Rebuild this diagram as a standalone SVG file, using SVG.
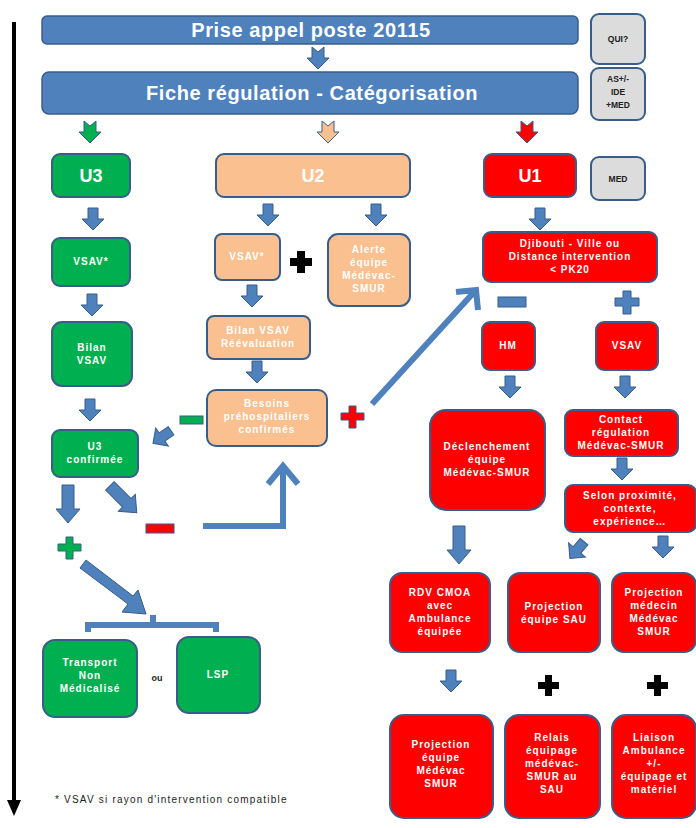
<svg xmlns="http://www.w3.org/2000/svg" xmlns:xlink="http://www.w3.org/1999/xlink" width="696" height="828" viewBox="0 0 696 828">
<style>
.bar{fill:#4f81bd;stroke:#385d8a;stroke-width:1.5}
.gr{fill:#00b050;stroke:#385d8a;stroke-width:2}
.or{fill:#fac090;stroke:#385d8a;stroke-width:2}
.rd{fill:#ff0000;stroke:#385d8a;stroke-width:2}
.gy{fill:#dcdcdc;stroke:#385d8a;stroke-width:2}
text{font-family:"Liberation Sans",Arial,sans-serif;font-weight:bold;text-anchor:middle}
.t{fill:#fff;font-size:10px;letter-spacing:1px}
.big{fill:#fff;font-size:18px}
.h{fill:#fff;font-size:20px;letter-spacing:0.6px}
.k{fill:#222;font-size:8.5px}
.ar{fill:#4f81bd;stroke:#385d8a;stroke-width:1}
.ln{fill:none;stroke:#4f81bd;stroke-width:6}
.blk{fill:#000}
</style>
<defs>
<path id="dn" d="M-5,-11 H5 V0 H11 L0,11 L-11,0 H-5 Z"/>
<path id="dnL" d="M-6,-20 H6 V4 H12 L0,18 L-12,4 H-6 Z"/>
<path id="nt" d="M-6,-11 L0,-6 L6,-11 V0 H11 L0,11 L-11,0 H-6 Z"/>
</defs>

<!-- timeline arrow -->
<g id="timeline">
<line x1="14" y1="22" x2="14" y2="802" stroke="#000" stroke-width="4"/>
<path d="M7,800 L21,800 L14,816 Z" fill="#000"/>
</g>

<g id="n_prise"><rect class="bar" x="42" y="16" width="536" height="28" rx="5"/><text class="h" x="311" y="37">Prise appel poste 20115</text></g>
<g id="n_fiche"><rect class="bar" x="42" y="72" width="536" height="42" rx="7"/><text class="h" x="312" y="100">Fiche régulation - Catégorisation</text></g>
<g id="n_qui"><rect class="gy" x="591" y="14" width="54" height="50" rx="8"/><text class="k" x="618" y="42">QUI?</text></g>
<g id="n_as"><rect class="gy" x="591" y="68" width="54" height="52" rx="8"/><text class="k" x="618" y="82">AS+/-</text><text class="k" x="618" y="95">IDE</text><text class="k" x="618" y="108">+MED</text></g>
<g id="n_med"><rect class="gy" x="591" y="157" width="54" height="43" rx="8"/><text class="k" x="618" y="182">MED</text></g>

<g id="n_u3"><rect class="gr" x="52" y="154" width="78" height="43" rx="8"/><text class="big" x="91" y="182">U3</text></g>
<g id="n_u2"><rect class="or" x="216" y="154" width="194" height="43" rx="8"/><text class="big" x="313" y="182">U2</text></g>
<g id="n_u1"><rect class="rd" x="484" y="154" width="92" height="43" rx="8"/><text class="big" x="530" y="182">U1</text></g>

<g id="n_vsav3"><rect class="gr" x="52" y="238" width="78" height="48" rx="8"/><text class="t" x="91" y="265">VSAV*</text></g>
<g id="n_bilan3"><rect class="gr" x="52" y="322" width="80" height="64" rx="10"/><text class="t" x="92" y="351">Bilan</text><text class="t" x="92" y="364">VSAV</text></g>
<g id="n_u3c"><rect class="gr" x="52" y="430" width="86" height="47" rx="8"/><text class="t" x="95" y="450">U3</text><text class="t" x="95" y="463">confirmée</text></g>

<g id="n_vsav2"><rect class="or" x="215" y="234" width="65" height="46" rx="7"/><text class="t" x="247" y="260">VSAV*</text></g>
<g id="n_alerte"><rect class="or" x="328" y="234" width="82" height="72" rx="10"/><text class="t" x="369" y="253">Alerte</text><text class="t" x="369" y="266">équipe</text><text class="t" x="369" y="279">Médévac-</text><text class="t" x="369" y="292">SMUR</text></g>
<g id="n_bilan2"><rect class="or" x="207" y="316" width="103" height="43" rx="7"/><text class="t" x="258" y="334">Bilan VSAV</text><text class="t" x="258" y="347">Réévaluation</text></g>
<g id="n_besoins"><rect class="or" x="207" y="390" width="120" height="56" rx="9"/><text class="t" x="267" y="407">Besoins</text><text class="t" x="267" y="420">préhospitaliers</text><text class="t" x="267" y="433">confirmés</text></g>

<g id="n_djib"><rect class="rd" x="483" y="232" width="174" height="50" rx="8"/><text class="t" x="570" y="247">Djibouti - Ville  ou</text><text class="t" x="570" y="260">Distance intervention</text><text class="t" x="570" y="273">&lt; PK20</text></g>
<g id="n_hm"><rect class="rd" x="482" y="322" width="53" height="48" rx="8"/><text class="t" x="508" y="349">HM</text></g>
<g id="n_vsav1"><rect class="rd" x="596" y="322" width="62" height="48" rx="8"/><text class="t" x="627" y="349">VSAV</text></g>
<g id="n_decl"><rect class="rd" x="430" y="410" width="115" height="100" rx="16"/><text class="t" x="487" y="450">Déclenchement</text><text class="t" x="487" y="463">équipe</text><text class="t" x="487" y="476">Médévac-SMUR</text></g>
<g id="n_contact"><rect class="rd" x="565" y="410" width="113" height="46" rx="8"/><text class="t" x="621" y="423">Contact</text><text class="t" x="621" y="436">régulation</text><text class="t" x="621" y="449">Médévac-SMUR</text></g>
<g id="n_selon"><rect class="rd" x="565" y="485" width="131" height="47" rx="8"/><text class="t" x="630" y="499">Selon proximité,</text><text class="t" x="630" y="512">contexte,</text><text class="t" x="630" y="525">expérience…</text></g>

<g id="n_rdv"><rect class="rd" x="390" y="573" width="100" height="79" rx="12"/><text class="t" x="440" y="596">RDV CMOA</text><text class="t" x="440" y="609">avec</text><text class="t" x="440" y="622">Ambulance</text><text class="t" x="440" y="635">équipée</text></g>
<g id="n_projsau"><rect class="rd" x="508" y="573" width="92" height="79" rx="12"/><text class="t" x="554" y="610">Projection</text><text class="t" x="554" y="623">équipe SAU</text></g>
<g id="n_projmed"><rect class="rd" x="612" y="573" width="84" height="79" rx="12"/><text class="t" x="654" y="596">Projection</text><text class="t" x="654" y="609">médecin</text><text class="t" x="654" y="622">Médévac</text><text class="t" x="654" y="635">SMUR</text></g>

<g id="n_projeq"><rect class="rd" x="390" y="715" width="103" height="103" rx="14"/><text class="t" x="441" y="748">Projection</text><text class="t" x="441" y="761">équipe</text><text class="t" x="441" y="774">Médévac</text><text class="t" x="441" y="787">SMUR</text></g>
<g id="n_relais"><rect class="rd" x="505" y="715" width="95" height="103" rx="14"/><text class="t" x="552" y="741">Relais</text><text class="t" x="552" y="754">équipage</text><text class="t" x="552" y="767">médévac-</text><text class="t" x="552" y="780">SMUR au</text><text class="t" x="552" y="793">SAU</text></g>
<g id="n_liaison"><rect class="rd" x="612" y="715" width="84" height="103" rx="14"/><text class="t" x="654" y="741">Liaison</text><text class="t" x="654" y="754">Ambulance</text><text class="t" x="654" y="767">+/-</text><text class="t" x="654" y="780">équipage et</text><text class="t" x="654" y="793">matériel</text></g>

<g id="n_transport"><rect class="gr" x="43" y="640" width="94" height="77" rx="12"/><text class="t" x="90" y="666">Transport</text><text class="t" x="90" y="679">Non</text><text class="t" x="90" y="692">Médicalisé</text></g>
<g id="n_ou"><text class="k" x="157" y="681" style="font-size:9px">ou</text></g>
<g id="n_lsp"><rect class="gr" x="177" y="637" width="83" height="76" rx="12"/><text class="t" x="218" y="678">LSP</text></g>

<g id="connectors">
<use href="#nt" class="ar" transform="translate(318,58)"/>
<use href="#nt" transform="translate(90,132)" fill="#00b050" stroke="#385d8a" stroke-width="1"/>
<use href="#nt" transform="translate(328,132)" fill="#fac090" stroke="#385d8a" stroke-width="1"/>
<use href="#nt" transform="translate(527,132)" fill="#ff0000" stroke="#385d8a" stroke-width="1"/>
<use href="#dn" class="ar" transform="translate(93,219)"/>
<use href="#dn" class="ar" transform="translate(92,305)"/>
<use href="#dn" class="ar" transform="translate(90,410)"/>
<use href="#dn" class="ar" transform="translate(268,215)"/>
<use href="#dn" class="ar" transform="translate(376,215)"/>
<use href="#dn" class="ar" transform="translate(252,296)"/>
<use href="#dn" class="ar" transform="translate(257,372)"/>
<use href="#dn" class="ar" transform="translate(540,219)"/>
<use href="#dn" class="ar" transform="translate(510,387)"/>
<use href="#dn" class="ar" transform="translate(625,387)"/>
<use href="#dn" class="ar" transform="translate(622,469)"/>
<use href="#dn" class="ar" transform="translate(663,547)"/>
<use href="#dn" class="ar" transform="translate(577,550) rotate(40)"/>
<use href="#dn" class="ar" transform="translate(451,681)"/>
<use href="#dnL" class="ar" transform="translate(459,546)"/>
<use href="#dnL" class="ar" transform="translate(68,505)"/>
<use href="#dnL" class="ar" transform="translate(124,500) rotate(-45)"/>
<use href="#dn" class="ar" transform="translate(162,437) rotate(55)"/>
<path class="ar" d="M80,568 L86,560 L133,596 L138,590 L146,614 L122,612 L128,604 Z"/>
<path class="ln" d="M88,632 V625 H216 V632 M153,625 V615"/>
<path class="ln" d="M372,404 L476,290 M456,292 L476,290 L478,310"/>
<path class="ln" d="M203,526 H283 V466 M268,484 L283,466 L298,484"/>
</g>

<g id="signs">
<path d="M297,251 h8 v7 h7 v8 h-7 v7 h-8 v-7 h-7 v-8 h7 Z" class="blk"/>
<rect x="498" y="297" width="28" height="10" fill="#4f81bd" stroke="#385d8a"/>
<path d="M623,291 h8 v7 h8 v8 h-8 v8 h-8 v-8 h-8 v-8 h8 Z" fill="#4f81bd" stroke="#385d8a"/>
<rect x="180" y="416" width="23" height="8" fill="#00b050" stroke="#385d8a"/>
<path d="M349,406 h7 v7 h8 v7 h-8 v8 h-7 v-8 h-8 v-7 h8 Z" fill="#ff0000" stroke="#385d8a"/>
<rect x="146" y="524" width="28" height="9" fill="#ff0000" stroke="#385d8a"/>
<path d="M66,537 h7 v7 h8 v7 h-8 v8 h-7 v-8 h-8 v-7 h8 Z" fill="#00b050" stroke="#385d8a"/>
<path d="M545,675 h7 v7 h7 v7 h-7 v7 h-7 v-7 h-7 v-7 h7 Z" class="blk"/>
<path d="M654,675 h7 v7 h7 v7 h-7 v7 h-7 v-7 h-7 v-7 h7 Z" class="blk"/>
</g>

<g id="footnote"><text x="55" y="803" style="font-size:10px;letter-spacing:1.2px;fill:#222;text-anchor:start;font-weight:normal">* VSAV si rayon d'intervention compatible</text></g>
</svg>
